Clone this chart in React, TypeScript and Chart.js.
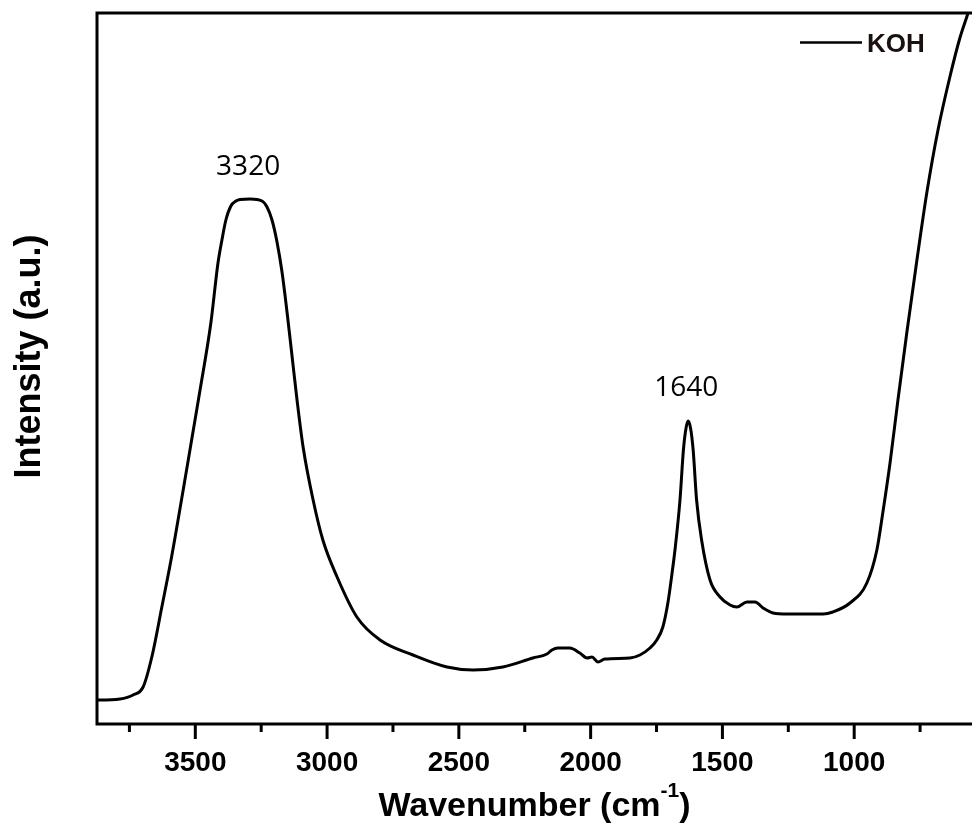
import React, { useEffect, useRef } from "react";
import { Chart, registerables } from "chart.js";

Chart.register(...registerables);

const seriesLabel = "KOH";
const wavenumbers = [
  3873, 3862, 3786, 3736, 3698, 3665, 3627, 3590, 3546, 3514, 3482, 3441, 3414, 3399, 3384, 3365,
  3346, 3330, 3292, 3247, 3228, 3209, 3190, 3171, 3152, 3133, 3114, 3091, 3053, 3016, 2962, 2887,
  2799, 2674, 2545, 2446, 2333, 2219, 2166, 2147, 2124, 2079, 2041, 2014, 1995, 1972, 1946, 1851,
  1813, 1775, 1749, 1726, 1707, 1691, 1680, 1661, 1648, 1638, 1630, 1621, 1611, 1598, 1579, 1547,
  1509, 1471, 1445, 1407, 1376, 1346, 1308, 1255, 1118, 1081, 1016, 952, 914, 891, 864, 834, 800,
  762, 724, 682, 637, 599, 568, 553,
];
const intensities = [
  23, 23, 24, 28, 36, 66, 116, 166, 233, 283, 333, 400, 460, 483, 503, 517,
  522, 523.5, 524, 522, 516, 503, 481, 451, 411, 367, 323, 276, 223, 183, 146, 106,
  83, 68, 56, 53, 56, 65, 69, 73, 75, 75, 70, 65, 66, 61, 64, 65,
  68, 75, 83, 96, 120, 150, 173, 223, 273, 295, 302, 295, 273, 223, 183, 143,
  126, 118, 116, 121, 121, 115, 110, 109, 109, 111, 120, 140, 173, 211, 260, 323, 391,
  463, 531, 593, 646, 685, 710, 723,
];
const xTickValues = [3750, 3500, 3250, 3000, 2750, 2500, 2250, 2000, 1750, 1500, 1250, 1000, 750];
const peakLabels = ["3320", "1640"];
const peakWavenumbers = [3292, 1630];
const peakLabelHeights = [548, 327];
const xTitle = "Wavenumber (cm";
const xTitleSup = "-1";
const yTitle = "Intensity (a.u.)";

const FONT = "'Liberation Sans', Arial, sans-serif";

const decorPlugin = {
  id: "decor",
  afterDraw(chart: any) {
    const { ctx, chartArea, scales } = chart;
    const { left, top, right, bottom } = chartArea;
    const x = scales.x;
    const y = scales.y;
    ctx.save();
    ctx.strokeStyle = "#000";
    ctx.fillStyle = "#000";
    ctx.lineWidth = 3;
    ctx.beginPath();
    ctx.moveTo(left, bottom + 1.5);
    ctx.lineTo(left, top);
    ctx.lineTo(right + 2, top);
    ctx.moveTo(left - 1.5, bottom);
    ctx.lineTo(right + 2, bottom);
    ctx.stroke();
    ctx.beginPath();
    x.ticks.forEach((t: any) => {
      const px = x.getPixelForValue(t.value);
      const major = t.value % 500 === 0;
      ctx.moveTo(px, bottom);
      ctx.lineTo(px, bottom + (major ? 15 : 8));
    });
    ctx.stroke();

    // peak labels
    ctx.font = "28px 'Open Sans', sans-serif";
    ctx.textAlign = "center";
    ctx.textBaseline = "alphabetic";
    peakLabels.forEach((lab, i) => {
      ctx.fillText(lab, x.getPixelForValue(peakWavenumbers[i]) - 2, y.getPixelForValue(peakLabelHeights[i]));
    });

    // legend
    const ds = chart.data.datasets[0];
    ctx.lineWidth = 2.5;
    ctx.beginPath();
    ctx.moveTo(800, 42.5);
    ctx.lineTo(862, 42.5);
    ctx.stroke();
    ctx.font = `bold 26px ${FONT}`;
    ctx.textAlign = "left";
    ctx.fillStyle = "#1a1010";
    ctx.fillText(ds.label, 867, 52);

    // x title with superscript
    ctx.fillStyle = "#000";
    const mainFont = `bold 34px ${FONT}`;
    const supFont = `bold 21px ${FONT}`;
    ctx.font = mainFont;
    const w1 = ctx.measureText(xTitle).width;
    const w3 = ctx.measureText(")").width;
    ctx.font = supFont;
    const w2 = ctx.measureText(xTitleSup).width;
    const total = w1 + w2 + w3;
    let sx = (left + right) / 2 - total / 2;
    const base = 816;
    ctx.font = mainFont;
    ctx.fillText(xTitle, sx, base);
    sx += w1;
    ctx.font = supFont;
    ctx.fillText(xTitleSup, sx, base - 19);
    sx += w2;
    ctx.font = mainFont;
    ctx.fillText(")", sx, base);

    // y title
    ctx.save();
    ctx.translate(40, (top + bottom) / 2 - 12);
    ctx.rotate(-Math.PI / 2);
    ctx.font = `bold 36px ${FONT}`;
    ctx.textAlign = "center";
    ctx.fillText(yTitle, 0, 0);
    ctx.restore();

    ctx.restore();
  },
};

export default function App() {
  const ref = useRef<HTMLCanvasElement>(null);
  useEffect(() => {
    if (!ref.current) return;
    const data = wavenumbers.map((w, i) => ({ x: w, y: intensities[i] }));
    const chart = new Chart(ref.current, {
      type: "line",
      data: {
        datasets: [
          {
            label: seriesLabel,
            data,
            borderColor: "#000",
            borderWidth: 3,
            pointRadius: 0,
            fill: false,
            cubicInterpolationMode: "monotone",
          },
        ],
      },
      plugins: [decorPlugin],
      options: {
        animation: false,
        responsive: false,
        devicePixelRatio: 1,
        layout: { padding: { top: 13, right: 0, left: 0, bottom: 0 } },
        plugins: { legend: { display: false }, tooltip: { enabled: false } },
        scales: {
          x: {
            type: "linear",
            reverse: true,
            min: 553,
            max: 3873,
            afterBuildTicks: (scale: any) => {
              scale.ticks = xTickValues.map((v) => ({ value: v }));
            },
            afterFit: (scale: any) => {
              scale.height = 104;
            },
            grid: { display: false, drawTicks: false, tickLength: 0 },
            border: { display: false },
            ticks: {
              autoSkip: false,
              maxRotation: 0,
              padding: 22,
              color: "#000",
              font: { family: FONT, size: 28, weight: "bold" },
              callback: (v: any) => (Number(v) % 500 === 0 ? String(v) : ""),
            },
          },
          y: {
            type: "linear",
            min: -1,
            max: 710,
            afterFit: (scale: any) => {
              scale.width = 97;
            },
            grid: { display: false, drawTicks: false },
            border: { display: false },
            ticks: { display: false },
          },
        },
      },
    });
    return () => chart.destroy();
  }, []);
  return (
    <div style={{ position: "absolute", left: 0, top: 0, width: 972, height: 828, background: "#fff" }}>
      <canvas ref={ref} width={972} height={828} />
    </div>
  );
}
